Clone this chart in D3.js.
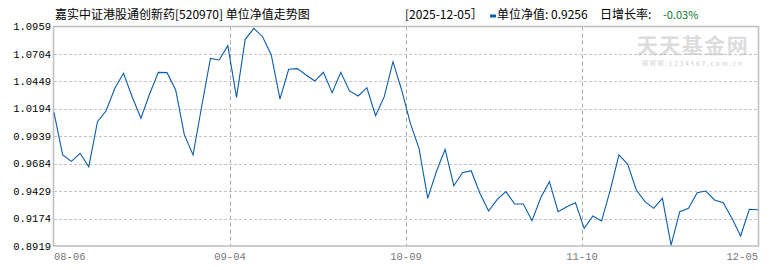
<!DOCTYPE html>
<html>
<head>
<meta charset="utf-8">
<script src="https://cdn.jsdelivr.net/npm/d3@7/dist/d3.min.js"></script>
<style>
body { margin: 0; background: #fff; }
text { font-family: "Noto Sans CJK SC", "DejaVu Sans", sans-serif; }
.num { font-family: "Liberation Mono", "DejaVu Sans Mono", monospace; }
</style>
</head>
<body>
<div id="chart"></div>
<script>
var fundTitle = '嘉实中证港股通创新药[520970] 单位净值走势图';
var lastDate = '2025-12-05';
var lastNav = '0.9256';
var lastChange = '-0.03%';

var xTickLabels = ['08-06', '09-04', '10-09', '11-10', '12-05'];
var yTicks = [0.8919, 0.9174, 0.9429, 0.9684, 0.9939, 1.0194, 1.0449, 1.0704, 1.0959];

// unit NAV, one value per published day
var navValues = [
  1.0158, 0.9765, 0.9706, 0.9781, 0.9656, 1.0074, 1.0176, 1.0385, 1.0524, 1.0304,
  1.0106, 1.0332, 1.0533, 1.0530, 1.0369, 0.9951, 0.9765, 1.0220, 1.0663, 1.0648,
  1.0781, 1.0301, 1.0840, 1.0942, 1.0864, 1.0694, 1.0285, 1.0561, 1.0567, 1.0508,
  1.0452, 1.0533, 1.0344, 1.0533, 1.0360, 1.0313, 1.0390, 1.0130, 1.0307, 1.0632,
  1.0369, 1.0059, 0.9827, 0.9362, 0.9611, 0.9818, 0.9479, 0.9600, 0.9619, 0.9409,
  0.9244, 0.9353, 0.9424, 0.9309, 0.9309, 0.9154, 0.9368, 0.9517, 0.9238, 0.9284,
  0.9321, 0.9083, 0.9198, 0.9151, 0.9439, 0.9765, 0.9681, 0.9439, 0.9331, 0.9269,
  0.9362, 0.8928, 0.9238, 0.9269, 0.9414, 0.9430, 0.9347, 0.9321, 0.9176, 0.9012,
  0.9260, 0.9256
];

var width = 770, height = 270;
var plot = { left: 54, right: 758, top: 26.5, bottom: 246 };

var svg = d3.select('#chart').append('svg')
  .attr('width', width)
  .attr('height', height);

var x = d3.scaleLinear()
  .domain([0, navValues.length - 1])
  .range([plot.left, plot.right]);

var y = d3.scaleLinear()
  .domain([yTicks[0], yTicks[yTicks.length - 1]])
  .range([plot.bottom, plot.top]);

// date labels sit at even steps along the series
var xTicks = xTickLabels.map(function(label, i) {
  return { label: label, pos: i * (navValues.length - 1) / (xTickLabels.length - 1) };
});

// watermark
svg.append('text')
  .attr('x', 693)
  .attr('y', 53)
  .attr('text-anchor', 'middle')
  .style('font-size', '21px')
  .style('font-weight', 'bold')
  .style('letter-spacing', '1.5px')
  .attr('fill', '#dcdcdc')
  .text('天天基金网');
svg.append('text')
  .attr('x', 693)
  .attr('y', 66)
  .attr('text-anchor', 'middle')
  .style('font-size', '7px')
  .style('letter-spacing', '1.6px')
  .attr('fill', '#d0d0d0')
  .text('WWW.1234567.com.cn');

// horizontal grid
svg.append('g')
  .selectAll('line')
  .data(yTicks.slice(1, -1))
  .enter().append('line')
  .attr('x1', plot.left)
  .attr('x2', plot.right)
  .attr('y1', function(d) { return Math.round(y(d)) + 0.5; })
  .attr('y2', function(d) { return Math.round(y(d)) + 0.5; })
  .attr('stroke', '#c4c4c4')
  .attr('stroke-dasharray', '3,2');

// vertical grid
svg.append('g')
  .selectAll('line')
  .data(xTicks.slice(1, -1))
  .enter().append('line')
  .attr('x1', function(d) { return Math.round(x(d.pos)) + 0.5; })
  .attr('x2', function(d) { return Math.round(x(d.pos)) + 0.5; })
  .attr('y1', plot.top)
  .attr('y2', plot.bottom)
  .attr('stroke', '#aaaaaa')
  .attr('stroke-dasharray', '4,3');

// frame
svg.append('rect')
  .attr('x', plot.left - 0.5)
  .attr('y', plot.top)
  .attr('width', plot.right - plot.left + 1)
  .attr('height', plot.bottom - plot.top)
  .attr('fill', 'none')
  .attr('stroke', '#bdbdbd')
  .attr('stroke-width', 1.5);

// y labels
svg.append('g')
  .selectAll('text')
  .data(yTicks)
  .enter().append('text')
  .attr('class', 'num')
  .attr('x', plot.left - 3)
  .attr('y', function(d) { return y(d); })
  .attr('dy', '0.35em')
  .attr('text-anchor', 'end')
  .style('font-size', '10.5px')
  .attr('fill', '#000')
  .text(function(d) { return d.toFixed(4); });

// x labels
svg.append('g')
  .selectAll('text')
  .data(xTicks)
  .enter().append('text')
  .attr('class', 'num')
  .attr('x', function(d) { return x(d.pos); })
  .attr('y', 260)
  .attr('text-anchor', function(d, i) {
    if (i === 0) return 'start';
    if (i === xTicks.length - 1) return 'end';
    return 'middle';
  })
  .style('font-size', '10.5px')
  .attr('fill', '#777')
  .text(function(d) { return d.label; });

// NAV line
var line = d3.line()
  .x(function(d, i) { return x(i); })
  .y(function(d) { return y(d); });

svg.append('path')
  .datum(navValues)
  .attr('d', line)
  .attr('fill', 'none')
  .attr('stroke', '#0b5cad')
  .attr('stroke-width', 1.1);

// title + legend
svg.append('text')
  .attr('x', 55)
  .attr('y', 19)
  .style('font-size', '12px')
  .attr('fill', '#000')
  .text(fundTitle);

svg.append('text')
  .attr('x', 405)
  .attr('y', 19)
  .style('font-size', '12px')
  .attr('fill', '#000')
  .text('[' + lastDate + '］');

svg.append('rect')
  .attr('x', 490)
  .attr('y', 14.5)
  .attr('width', 6)
  .attr('height', 3)
  .attr('fill', '#0b5cad');

svg.append('text')
  .attr('x', 497)
  .attr('y', 19)
  .style('font-size', '12px')
  .attr('fill', '#000')
  .text('单位净值: ' + lastNav);

svg.append('text')
  .attr('x', 600)
  .attr('y', 19)
  .style('font-size', '12px')
  .attr('fill', '#000')
  .text('日增长率:');

svg.append('text')
  .attr('x', 663)
  .attr('y', 19)
  .style('font-size', '11px')
  .attr('fill', '#0a7a2a')
  .text(lastChange);
</script>
</body>
</html>
